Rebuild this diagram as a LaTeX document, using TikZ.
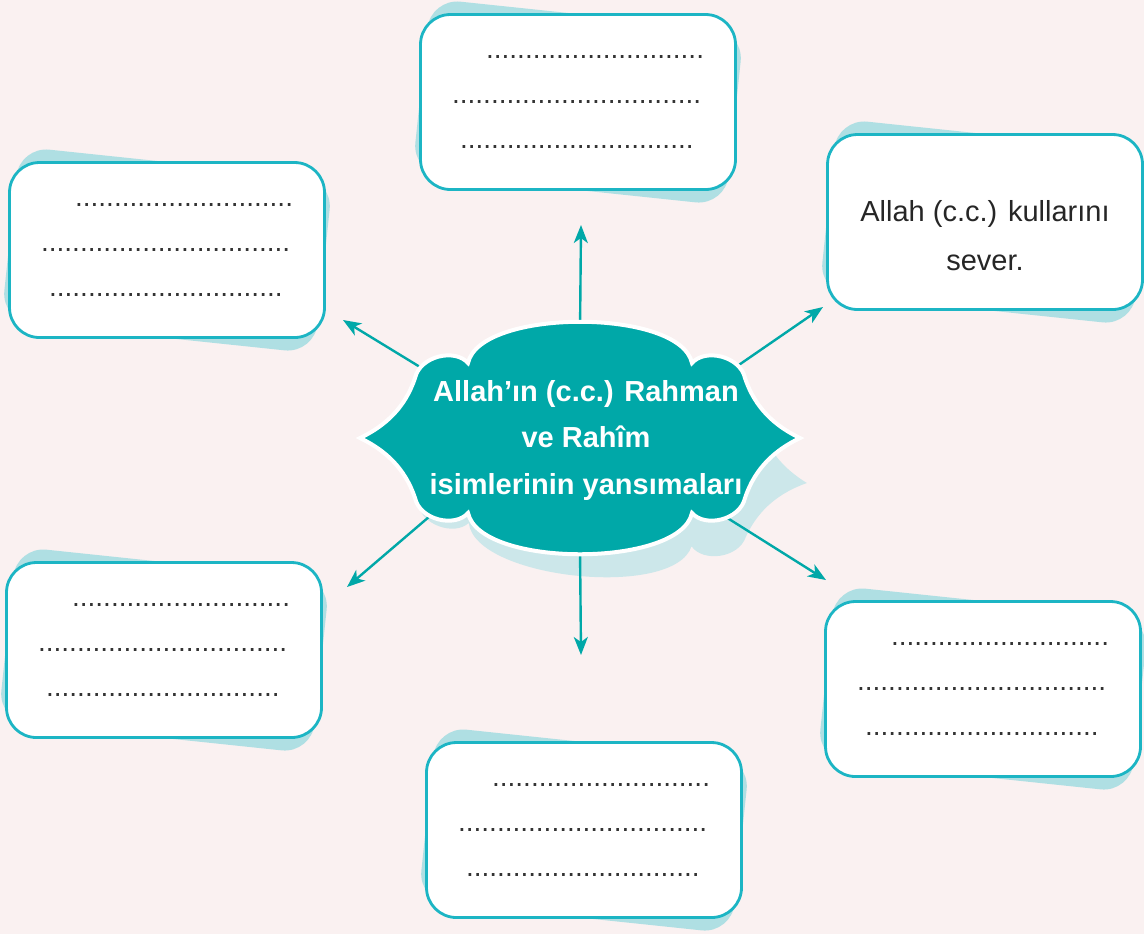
\documentclass[tikz,border=0pt]{standalone}
\usepackage{fontspec}
\setmainfont{Liberation Sans}
\usetikzlibrary{arrows.meta}
\definecolor{pagebg}{HTML}{FAF1F1}
\definecolor{tealmain}{HTML}{00A8A8}
\definecolor{boxline}{HTML}{1CB5C4}
\definecolor{boxshade}{HTML}{AFDFE3}
\definecolor{hubshade}{HTML}{CCE7EA}
\newcommand{\dotrow}[1]{\foreach \i in {1,...,#1}{.}}
\newcommand{\blanks}{\hspace*{17pt}\dotrow{28}\\ \dotrow{32}\\ \hspace*{4pt}\dotrow{30}}
\newcommand{\hubshape}{(-220,0) .. controls (-195,-12) and (-175,-30) .. (-165,-60)
  .. controls (-160,-82) and (-125,-90) .. (-112,-75)
  .. controls (-100,-130) and (100,-130) .. (112,-75)
  .. controls (125,-90) and (160,-82) .. (165,-60)
  .. controls (175,-30) and (195,-12) .. (220,0)
  .. controls (195,12) and (175,30) .. (165,60)
  .. controls (160,82) and (125,90) .. (112,75)
  .. controls (100,130) and (-100,130) .. (-112,75)
  .. controls (-125,90) and (-160,82) .. (-165,60)
  .. controls (-175,30) and (-195,12) .. cycle}

\begin{document}
\begin{tikzpicture}[x=0.5pt,y=-0.5pt,
  cardshade/.style={fill=boxshade,rounded corners=15pt,minimum width=157.5pt,minimum height=87.5pt,rotate=-6},
  card/.style={draw=boxline,line width=1.4pt,fill=white,rounded corners=15pt,minimum width=157.5pt,minimum height=87.5pt,align=left,text=black!80,font=\fontsize{14}{22.5}\selectfont},
  ray/.style={draw=tealmain,line width=1.2pt,-{Stealth[length=9pt,width=7pt,inset=2.5pt]}}]
  \useasboundingbox (0,0) rectangle (1144,934);
  \clip (0,0) rectangle (1144,934);
  \fill[pagebg] (0,0) rectangle (1144,934);

  \node[cardshade] (top-sh) at (578,102) {};
  \node[cardshade] (tl-sh) at (167,250) {};
  \node[cardshade] (tr-sh) at (985,222) {};
  \node[cardshade] (bl-sh) at (164,650) {};
  \node[cardshade] (bc-sh) at (584,830) {};
  \node[cardshade] (br-sh) at (983,689) {};

  \node[card] (top) at (578,102) {\blanks};
  \node[card] (tl) at (167,250) {\blanks};
  \node[card] (tr) at (985,222) {};
  \node[align=center,font=\fontsize{14.5}{24.5}\selectfont,text=black!85] (tr-text) at (985,236) {Allah (c.c.) kullarını\\sever.};
  \node[card] (bl) at (164,650) {\blanks};
  \node[card] (bc) at (584,830) {\blanks};
  \node[card] (br) at (983,689) {\blanks};

  \fill[hubshade,shift={(588,460)},rotate=-6] \hubshape;

  \coordinate (r-up) at (579,440);
  \coordinate (r-ul) at (520,428);
  \coordinate (r-ur) at (640,433);
  \coordinate (r-dl) at (520,439);
  \coordinate (r-dr) at (640,463);
  \coordinate (r-dn) at (579,440);
  \coordinate (t-up) at (581,225);
  \coordinate (t-ul) at (343,320);
  \coordinate (t-ur) at (823,307);
  \coordinate (t-dl) at (347,587);
  \coordinate (t-dr) at (826,580);
  \coordinate (t-dn) at (581,655);
  \draw[ray] (r-up) -- (t-up);
  \draw[ray] (r-ul) -- (t-ul);
  \draw[ray] (r-ur) -- (t-ur);
  \draw[ray] (r-dl) -- (t-dl);
  \draw[ray] (r-dr) -- (t-dr);
  \draw[ray] (r-dn) -- (t-dn);

  \draw[fill=tealmain,draw=white,line width=2pt,shift={(580,438)}] \hubshape;
  \node[text=white,align=center,font=\bfseries\fontsize{14.5}{23.25}\selectfont] (hub) at (586,440) {Allah’ın (c.c.) Rahman\\ve Rahîm\\isimlerinin yansımaları};
\end{tikzpicture}
\end{document}
